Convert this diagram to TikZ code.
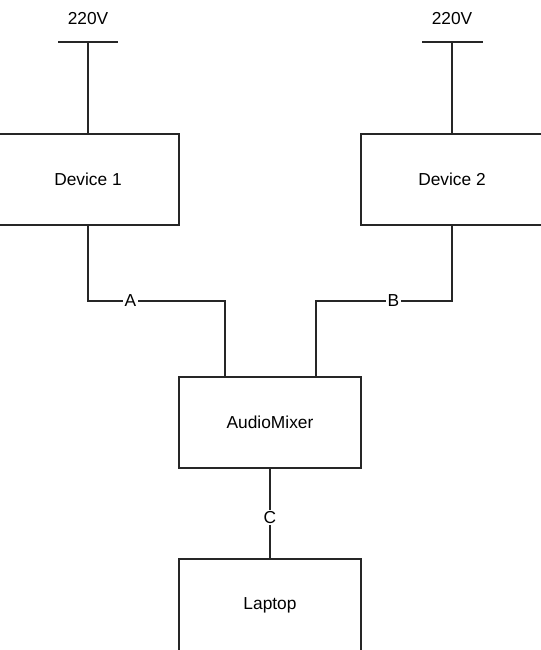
\documentclass[tikz,border=0pt]{standalone}
\usepackage{fontspec}
\setmainfont{Liberation Sans}
\begin{document}
\begin{tikzpicture}[x=0.75pt,y=-0.75pt,
  every node/.style={font=\fontsize{13}{15}\selectfont},
  wire/.style={line width=1.1pt,draw=black!85},
  devbox/.style={draw=black!85,line width=1.1pt,minimum width=182*0.75pt,minimum height=91*0.75pt,inner sep=0pt},
  lab/.style={fill=white,inner sep=1pt}]
\useasboundingbox (0,0) rectangle (541,650);
\clip (0,0) rectangle (541,650);
% boxes
\node[devbox] (d1) at (88,179.5) {Device 1};
\node[devbox] (d2) at (452,179.5) {Device 2};
\node[devbox] (mix) at (270,422.5) {AudioMixer};
\node[devbox,minimum height=92*0.75pt] (lap) at (270,605) {Laptop};
% power supplies
\node (v1) at (88,19) {220V};
\node (v2) at (452,19) {220V};
\coordinate (p1) at (88,42);
\coordinate (p1l) at (58,42);
\coordinate (p1r) at (118,42);
\coordinate (p2) at (452,42);
\coordinate (p2l) at (422,42);
\coordinate (p2r) at (483,42);
\draw[wire] (p1l) -- (p1r);
\draw[wire] (p2l) -- (p2r);
\draw[wire] (p1) -- (d1.north);
\draw[wire] (p2) -- (d2.north);
% connectors
\coordinate (a1) at (88,301);
\coordinate (a2) at (225,301);
\coordinate (b1) at (452,301);
\coordinate (b2) at (316,301);
\draw[wire] (d1.south) -- (a1) -- node[lab,pos=0.31]{A} (a2) -- (a2 |- mix.north);
\draw[wire] (d2.south) -- (b1) -- node[lab,pos=0.43]{B} (b2) -- (b2 |- mix.north);
\draw[wire] (mix.south) -- node[lab,pos=0.54]{C} (lap.north);
\end{tikzpicture}
\end{document}
